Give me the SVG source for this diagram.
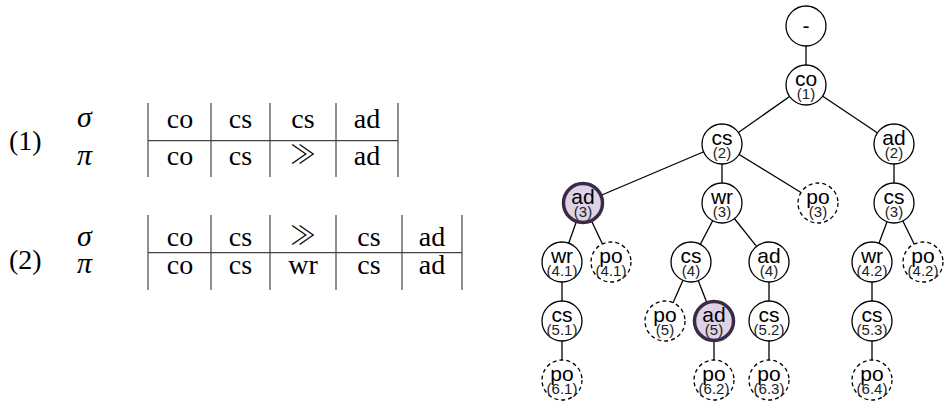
<svg xmlns="http://www.w3.org/2000/svg" width="947" height="403" viewBox="0 0 947 403">
  <style>
    .tx { font-family: "Liberation Serif", "DejaVu Serif", serif; font-size: 28px; fill: #000; }
    .gk { font-family: "Liberation Serif", "DejaVu Serif", serif; font-size: 30px; font-style: italic; fill: #000; }
    .gg { font-family: "Noto Sans CJK JP", "DejaVu Serif", serif; font-size: 26px; font-weight: 300; fill: #000; }
    .mid { text-anchor: middle; }
    .rule { stroke: #444; stroke-width: 1.2; fill: none; }
    .edge { stroke: #000; stroke-width: 1.3; fill: none; }
    .n { fill: #fff; stroke: #000; stroke-width: 1.3; }
    .d { fill: #fff; stroke: #000; stroke-width: 1.3; stroke-dasharray: 4 3; }
    .h { fill: #ddd2e6; stroke: #3b2a45; stroke-width: 3.5; }
    .lb { font-family: "Liberation Sans", Arial, sans-serif; font-size: 21px; text-anchor: middle; fill: #000; }
    .nb { font-family: "Liberation Sans", Arial, sans-serif; font-size: 15px; text-anchor: middle; fill: #222; }
  </style>

  <!-- sequence pair (1) -->
  <g id="table1">
    <text class="tx" x="9" y="150">(1)</text>
    <text class="gk" x="77" y="127">σ</text>
    <text class="gk" x="77" y="165">π</text>
    <line class="rule" x1="148" y1="103" x2="148" y2="177"/>
    <line class="rule" x1="211" y1="103" x2="211" y2="177"/>
    <line class="rule" x1="270" y1="103" x2="270" y2="177"/>
    <line class="rule" x1="336" y1="103" x2="336" y2="177"/>
    <line class="rule" x1="398" y1="103" x2="398" y2="177"/>
    <line class="rule" x1="148" y1="140.7" x2="398" y2="140.7"/>
    <text class="tx mid" x="180" y="127.5">co</text>
    <text class="tx mid" x="240.5" y="127.5">cs</text>
    <text class="tx mid" x="303" y="127.5">cs</text>
    <text class="tx mid" x="367" y="127.5">ad</text>
    <text class="tx mid" x="180" y="165">co</text>
    <text class="tx mid" x="240.5" y="165">cs</text>
    <text class="gg mid" x="303" y="164">≫</text>
    <text class="tx mid" x="367" y="165">ad</text>
  </g>

  <!-- sequence pair (2) -->
  <g id="table2">
    <text class="tx" x="9" y="269">(2)</text>
    <text class="gk" x="77" y="246">σ</text>
    <text class="gk" x="77" y="273">π</text>
    <line class="rule" x1="148" y1="215" x2="148" y2="290"/>
    <line class="rule" x1="211" y1="215" x2="211" y2="290"/>
    <line class="rule" x1="270" y1="215" x2="270" y2="290"/>
    <line class="rule" x1="336" y1="215" x2="336" y2="290"/>
    <line class="rule" x1="402" y1="215" x2="402" y2="290"/>
    <line class="rule" x1="462" y1="215" x2="462" y2="290"/>
    <line class="rule" x1="148" y1="252.7" x2="462" y2="252.7"/>
    <text class="tx mid" x="180" y="246">co</text>
    <text class="tx mid" x="240.5" y="246">cs</text>
    <text class="gg mid" x="303" y="245">≫</text>
    <text class="tx mid" x="369" y="246">cs</text>
    <text class="tx mid" x="432" y="246">ad</text>
    <text class="tx mid" x="180" y="274">co</text>
    <text class="tx mid" x="240.5" y="274">cs</text>
    <text class="tx mid" x="303" y="274">wr</text>
    <text class="tx mid" x="369" y="274">cs</text>
    <text class="tx mid" x="432" y="274">ad</text>
  </g>

  <!-- tree edges -->
  <g id="edges">
    <line class="edge" x1="806" y1="26" x2="806" y2="85"/>
    <line class="edge" x1="806" y1="85" x2="722" y2="144"/>
    <line class="edge" x1="806" y1="85" x2="894" y2="144"/>
    <line class="edge" x1="722" y1="144" x2="583" y2="203"/>
    <line class="edge" x1="722" y1="144" x2="722" y2="203"/>
    <line class="edge" x1="722" y1="144" x2="818" y2="203"/>
    <line class="edge" x1="894" y1="144" x2="894" y2="203"/>
    <line class="edge" x1="583" y1="203" x2="562" y2="262"/>
    <line class="edge" x1="583" y1="203" x2="611" y2="262"/>
    <line class="edge" x1="722" y1="203" x2="691" y2="262"/>
    <line class="edge" x1="722" y1="203" x2="769" y2="262"/>
    <line class="edge" x1="894" y1="203" x2="872" y2="262"/>
    <line class="edge" x1="894" y1="203" x2="923" y2="262"/>
    <line class="edge" x1="562" y1="262" x2="562" y2="321"/>
    <line class="edge" x1="691" y1="262" x2="665" y2="321"/>
    <line class="edge" x1="691" y1="262" x2="714" y2="321"/>
    <line class="edge" x1="769" y1="262" x2="769" y2="321"/>
    <line class="edge" x1="872" y1="262" x2="872" y2="321"/>
    <line class="edge" x1="562" y1="321" x2="562" y2="380"/>
    <line class="edge" x1="714" y1="321" x2="714" y2="380"/>
    <line class="edge" x1="769" y1="321" x2="769" y2="380"/>
    <line class="edge" x1="872" y1="321" x2="872" y2="380"/>
  </g>

  <!-- tree nodes -->
  <g id="root"><circle class="n" cx="806" cy="26" r="20"/><text class="lb" x="806" y="33">-</text></g>
  <g id="co1"><circle class="n" cx="806" cy="85" r="20"/><text class="lb" x="806" y="86">co</text><text class="nb" x="806" y="99">(1)</text></g>
  <g id="cs2"><circle class="n" cx="722" cy="144" r="20"/><text class="lb" x="722" y="145">cs</text><text class="nb" x="722" y="158">(2)</text></g>
  <g id="ad2"><circle class="n" cx="894" cy="144" r="20"/><text class="lb" x="894" y="145">ad</text><text class="nb" x="894" y="158">(2)</text></g>
  <g id="ad3"><circle class="h" cx="583" cy="203" r="19.5"/><text class="lb" x="583" y="204">ad</text><text class="nb" x="583" y="217">(3)</text></g>
  <g id="wr3"><circle class="n" cx="722" cy="203" r="20"/><text class="lb" x="722" y="204">wr</text><text class="nb" x="722" y="217">(3)</text></g>
  <g id="po3"><circle class="d" cx="818" cy="203" r="20"/><text class="lb" x="818" y="204">po</text><text class="nb" x="818" y="217">(3)</text></g>
  <g id="cs3"><circle class="n" cx="894" cy="203" r="20"/><text class="lb" x="894" y="204">cs</text><text class="nb" x="894" y="217">(3)</text></g>
  <g id="wr41"><circle class="n" cx="562" cy="262" r="20"/><text class="lb" x="562" y="263">wr</text><text class="nb" x="562" y="276">(4.1)</text></g>
  <g id="po41"><circle class="d" cx="611" cy="262" r="20"/><text class="lb" x="611" y="263">po</text><text class="nb" x="611" y="276">(4.1)</text></g>
  <g id="cs4"><circle class="n" cx="691" cy="262" r="20"/><text class="lb" x="691" y="263">cs</text><text class="nb" x="691" y="276">(4)</text></g>
  <g id="ad4"><circle class="n" cx="769" cy="262" r="20"/><text class="lb" x="769" y="263">ad</text><text class="nb" x="769" y="276">(4)</text></g>
  <g id="wr42"><circle class="n" cx="872" cy="262" r="20"/><text class="lb" x="872" y="263">wr</text><text class="nb" x="872" y="276">(4.2)</text></g>
  <g id="po42"><circle class="d" cx="923" cy="262" r="20"/><text class="lb" x="923" y="263">po</text><text class="nb" x="923" y="276">(4.2)</text></g>
  <g id="cs51"><circle class="n" cx="562" cy="321" r="20"/><text class="lb" x="562" y="322">cs</text><text class="nb" x="562" y="335">(5.1)</text></g>
  <g id="po5"><circle class="d" cx="665" cy="321" r="20"/><text class="lb" x="665" y="322">po</text><text class="nb" x="665" y="335">(5)</text></g>
  <g id="ad5"><circle class="h" cx="714" cy="321" r="19.5"/><text class="lb" x="714" y="322">ad</text><text class="nb" x="714" y="335">(5)</text></g>
  <g id="cs52"><circle class="n" cx="769" cy="321" r="20"/><text class="lb" x="769" y="322">cs</text><text class="nb" x="769" y="335">(5.2)</text></g>
  <g id="cs53"><circle class="n" cx="872" cy="321" r="20"/><text class="lb" x="872" y="322">cs</text><text class="nb" x="872" y="335">(5.3)</text></g>
  <g id="po61"><circle class="d" cx="562" cy="380" r="20"/><text class="lb" x="562" y="381">po</text><text class="nb" x="562" y="394">(6.1)</text></g>
  <g id="po62"><circle class="d" cx="714" cy="380" r="20"/><text class="lb" x="714" y="381">po</text><text class="nb" x="714" y="394">(6.2)</text></g>
  <g id="po63"><circle class="d" cx="769" cy="380" r="20"/><text class="lb" x="769" y="381">po</text><text class="nb" x="769" y="394">(6.3)</text></g>
  <g id="po64"><circle class="d" cx="872" cy="380" r="20"/><text class="lb" x="872" y="381">po</text><text class="nb" x="872" y="394">(6.4)</text></g>
</svg>
